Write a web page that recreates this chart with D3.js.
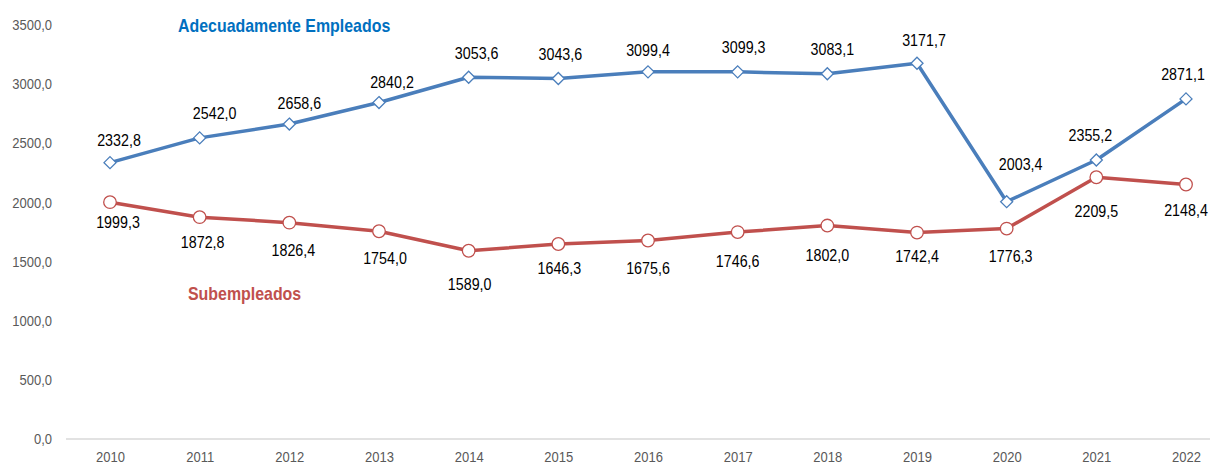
<!DOCTYPE html>
<html><head><meta charset="utf-8">
<script src="https://cdn.jsdelivr.net/npm/d3@7"></script>
<style>
body{margin:0;background:#fff;}
svg{display:block;}
</style></head>
<body><svg id="c" width="1212" height="466"></svg>
<script>
const years = ["2010","2011","2012","2013","2014","2015","2016","2017","2018","2019","2020","2021","2022"];
const adecuados = [2332.8,2542.0,2658.6,2840.2,3053.6,3043.6,3099.4,3099.3,3083.1,3171.7,2003.4,2355.2,2871.1];
const subempleados = [1999.3,1872.8,1826.4,1754.0,1589.0,1646.3,1675.6,1746.6,1802.0,1742.4,1776.3,2209.5,2148.4];
const yTicks = [0,500,1000,1500,2000,2500,3000,3500];

// label placement (style, not data)
const blueDx = [9,15,10,13,8,2,0,6,5,7,14,-6,-3];
const blueDy = [-17,-19,-15,-15,-18,-18,-16,-19,-19,-17,-32,-19,-19];
const redDx  = [8,3,4,6,1,1,0,0,0,0,4,0,0];
const redDy  = [26,31,33,33,39,30,33,35,35,29,33,40,31];

const svg = d3.select("#c");
const font = "'Liberation Sans',Arial,sans-serif";
const NARROW = 0.84;
const x = d3.scalePoint().domain(years).range([110,1186]);
const y = d3.scaleLinear().domain([0,3500]).range([439,24.4]);
const fmt = v => d3.format(".1f")(v).replace(".", ",");

// baseline
svg.append("line").attr("x1",66).attr("x2",1210).attr("y1",y(0)).attr("y2",y(0))
  .attr("stroke","#d9d9d9").attr("stroke-width",1.5);

// y axis labels
const ya = svg.append("g").attr("transform","translate(52,0)")
  .call(d3.axisLeft(y).tickValues(yTicks).tickSize(0).tickPadding(0).tickFormat(fmt));
ya.select(".domain").remove();
ya.selectAll("text").attr("fill","#595959").style("font-family",font).style("font-size","15.5px")
  .attr("transform",`scale(${NARROW},1)`);

// x axis labels
const xa = svg.append("g").attr("transform",`translate(0,${y(0)})`)
  .call(d3.axisBottom(x).tickSize(0).tickPadding(12));
xa.select(".domain").remove();
xa.selectAll("text").attr("fill","#595959").style("font-family",font).style("font-size","15.5px")
  .attr("transform",`scale(${NARROW},1)`);

const line = d3.line().x((d,i)=>x(years[i])).y(d=>y(d));

// blue series
svg.append("path").datum(adecuados).attr("d",line).attr("fill","none")
  .attr("stroke","#4a7ebb").attr("stroke-width",3.5).attr("stroke-linejoin","round");
svg.append("g").selectAll("path").data(adecuados).join("path")
  .attr("transform",(d,i)=>`translate(${x(years[i])},${y(d)})`)
  .attr("d","M0,-6L6,0L0,6L-6,0Z").attr("fill","#fff").attr("stroke","#4a7ebb").attr("stroke-width",1.3);

// red series
svg.append("path").datum(subempleados).attr("d",line).attr("fill","none")
  .attr("stroke","#c0504d").attr("stroke-width",3.5).attr("stroke-linejoin","round");
svg.append("g").selectAll("circle").data(subempleados).join("circle")
  .attr("cx",(d,i)=>x(years[i])).attr("cy",d=>y(d)).attr("r",6.3)
  .attr("fill","#fff").attr("stroke","#c0504d").attr("stroke-width",1.3);

// data labels
svg.append("g").selectAll("text").data(adecuados).join("text")
  .attr("transform",(d,i)=>`translate(${x(years[i])+blueDx[i]},${y(d)+blueDy[i]}) scale(${NARROW},1)`)
  .attr("text-anchor","middle").style("font-family",font).style("font-size","17px").attr("fill","#000")
  .text(fmt);
svg.append("g").selectAll("text").data(subempleados).join("text")
  .attr("transform",(d,i)=>`translate(${x(years[i])+redDx[i]},${y(d)+redDy[i]}) scale(${NARROW},1)`)
  .attr("text-anchor","middle").style("font-family",font).style("font-size","17px").attr("fill","#000")
  .text(fmt);

// series names
svg.append("text").attr("transform","translate(178,32) scale(0.91,1)").text("Adecuadamente Empleados")
  .attr("fill","#0070c0").style("font-family",font).style("font-weight","bold").style("font-size","17.5px");
svg.append("text").attr("transform","translate(188,300) scale(0.91,1)").text("Subempleados")
  .attr("fill","#c0504d").style("font-family",font).style("font-weight","bold").style("font-size","17.5px");
</script></body></html>
